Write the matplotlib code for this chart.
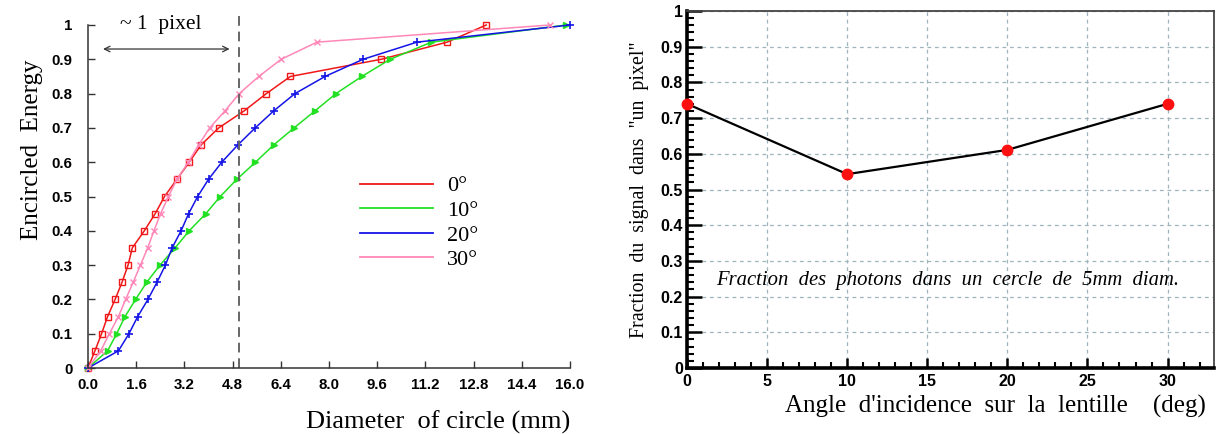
import matplotlib
matplotlib.use('Agg')
import matplotlib.pyplot as plt
from matplotlib.lines import Line2D
from matplotlib.ticker import MultipleLocator

SERIF = 'Liberation Serif'
SANS = 'Liberation Sans'

# encircled energy levels (same for every curve)
energy = [0, 0.05, 0.1, 0.15, 0.2, 0.25, 0.3, 0.35, 0.4, 0.45, 0.5,
          0.55, 0.6, 0.65, 0.7, 0.75, 0.8, 0.85, 0.9, 0.95, 1.0]

# diameters (mm) for each incidence angle
diam_0 = [0, 0.23, 0.45, 0.65, 0.9, 1.13, 1.33, 1.47, 1.87, 2.23, 2.54,
          2.95, 3.36, 3.75, 4.34, 5.19, 5.92, 6.72, 9.73, 11.92, 13.22]
diam_10 = [0, 0.65, 0.95, 1.23, 1.58, 1.95, 2.39, 2.89, 3.36, 3.91, 4.39,
           4.94, 5.56, 6.16, 6.84, 7.54, 8.23, 9.09, 10.03, 11.4, 15.87]
diam_20 = [0, 1.01, 1.36, 1.65, 1.99, 2.29, 2.57, 2.79, 3.09, 3.34, 3.64,
           4.0, 4.44, 4.97, 5.55, 6.17, 6.87, 7.87, 9.13, 10.92, 16.0]
diam_30 = [0, 0.42, 0.71, 1.01, 1.25, 1.5, 1.74, 1.98, 2.19, 2.41, 2.67,
           2.95, 3.33, 3.67, 4.04, 4.55, 5.02, 5.67, 6.41, 7.6, 15.33]

angle_labels = ['0°', '10°', '20°', '30°']

pixel_diam = 5.0
x_ticks = [0.0, 1.6, 3.2, 4.8, 6.4, 8.0, 9.6, 11.2, 12.8, 14.4, 16.0]

# fraction of signal within a 5mm circle vs incidence angle
angles = [0, 10, 20, 30]
fraction = [0.74, 0.543, 0.611, 0.74]

fig = plt.figure(figsize=(12.18, 4.34), dpi=100)

# ---------------- left panel ----------------
ax = fig.add_axes([88 / 1218, 66 / 434, 482 / 1218, 343 / 434])
series = [
    (diam_0, '#f01818', dict(marker='s', fillstyle='none', markersize=4.5, markeredgewidth=1.0)),
    (diam_10, '#22e022', dict(marker='>', markersize=5)),
    (diam_20, '#1414e6', dict(marker='+', markersize=6, markeredgewidth=1.2)),
    (diam_30, '#ff88b8', dict(marker='x', markersize=5, markeredgewidth=1.0)),
]
handles = []
for d, color, mk in series:
    ax.plot(d, energy, color=color, linewidth=1.1, clip_on=False, **mk)
    handles.append(Line2D([], [], color=color, linewidth=1.3))

ax.plot([pixel_diam, pixel_diam], [0, 1.025], color='#666666', linestyle=(0, (5, 3)),
        linewidth=1.4, clip_on=False)
ax.annotate('', xy=(0.5, 0.93), xytext=(4.7, 0.93),
            arrowprops=dict(arrowstyle='<->', color='#333333', lw=0.9, shrinkA=0, shrinkB=0))
ax.text(2.4, 0.975, '~ 1  pixel', ha='center', va='bottom', family=SERIF, fontsize=15.5)

ax.set_xlim(0, 16)
ax.set_ylim(0, 1)
ax.set_xticks(x_ticks)
ax.set_xticklabels([f'{v:.1f}' for v in x_ticks])
ax.set_yticks([i / 10 for i in range(11)])
ax.set_yticklabels(['0'] + [f'{i / 10:.1f}' for i in range(1, 10)] + ['1'])
ax.tick_params(direction='in', length=5, width=1, color='#333333', labelsize=10.8)
ax.tick_params(axis='y', pad=11)
ax.tick_params(axis='x', pad=7)
for lab in ax.get_xticklabels() + ax.get_yticklabels():
    lab.set_family(SANS)
    lab.set_fontweight('bold')
ax.spines['top'].set_visible(False)
ax.spines['right'].set_visible(False)
for s in ('left', 'bottom'):
    ax.spines[s].set_color('#333333')
    ax.spines[s].set_linewidth(1.1)

ax.set_xlabel('Diameter  of circle (mm)', family=SERIF, fontsize=19)
ax.xaxis.set_label_coords(0.726, -0.124)
ax.set_ylabel('Encircled  Energy', family=SERIF, fontsize=18)
ax.yaxis.set_label_coords(-0.093, 0.636)

leg = ax.legend(handles, angle_labels, loc='upper left', bbox_to_anchor=(0.564, 0.56),
                frameon=False, borderaxespad=0, borderpad=0, handlelength=3.3,
                handletextpad=0.63, labelspacing=0.18, prop={'family': SERIF, 'size': 16})

# ---------------- right panel ----------------
ax2 = fig.add_axes([687 / 1218, 66 / 434, 527 / 1218, 357 / 434])
ax2.plot(angles, fraction, color='black', linewidth=1.6, zorder=3)
ax2.plot(angles, fraction, linestyle='none', marker='o', markersize=7.5,
         color='#ff1010', zorder=4, clip_on=False)

ax2.set_xlim(0, 32.9)
ax2.set_ylim(0, 1)
ax2.xaxis.set_minor_locator(MultipleLocator(1))
ax2.yaxis.set_minor_locator(MultipleLocator(0.02))
ax2.set_yticks([i / 10 for i in range(11)])
ax2.set_yticklabels(['0'] + [f'{i / 10:.1f}' for i in range(1, 10)] + ['1'])
ax2.set_xticks([0, 5, 10, 15, 20, 25, 30])
ax2.set_xticklabels(['0', '5', '10', '15', '20', '25', '30'])
ax2.grid(True, which='major', color='#9fb4bc', linestyle=(0, (3, 3)), linewidth=0.9)
ax2.tick_params(axis='y', which='major', direction='in', length=11, width=1.8, pad=3)
ax2.tick_params(axis='y', which='minor', direction='in', length=5, width=1.5)
ax2.tick_params(axis='x', which='major', direction='in', length=7, width=1.8, pad=4)
ax2.tick_params(axis='x', which='minor', direction='in', length=4, width=1.5)
ax2.tick_params(labelsize=11.5)
for lab in ax2.get_xticklabels() + ax2.get_yticklabels():
    lab.set_family(SANS)
    lab.set_fontweight('bold')
for s in ('left', 'bottom'):
    ax2.spines[s].set_linewidth(2.6)
    ax2.spines[s].set_color('black')
for s in ('top', 'right'):
    ax2.spines[s].set_linewidth(1.3)
    ax2.spines[s].set_color('#444444')

ax2.text(16.3, 0.246, 'Fraction  des  photons  dans  un  cercle  de  5mm  diam.',
         ha='center', va='center', family=SERIF, style='italic', fontsize=14.9)
ax2.set_ylabel('Fraction  du  signal  dans  "un  pixel"', family=SERIF, fontsize=14.3)
ax2.yaxis.set_label_coords(-0.072, 0.5)
ax2.set_xlabel("Angle  d'incidence  sur  la  lentille    (deg)", family=SERIF, fontsize=18)
ax2.xaxis.set_label_coords(0.586, -0.075)

fig.savefig('out.png', dpi=100)
